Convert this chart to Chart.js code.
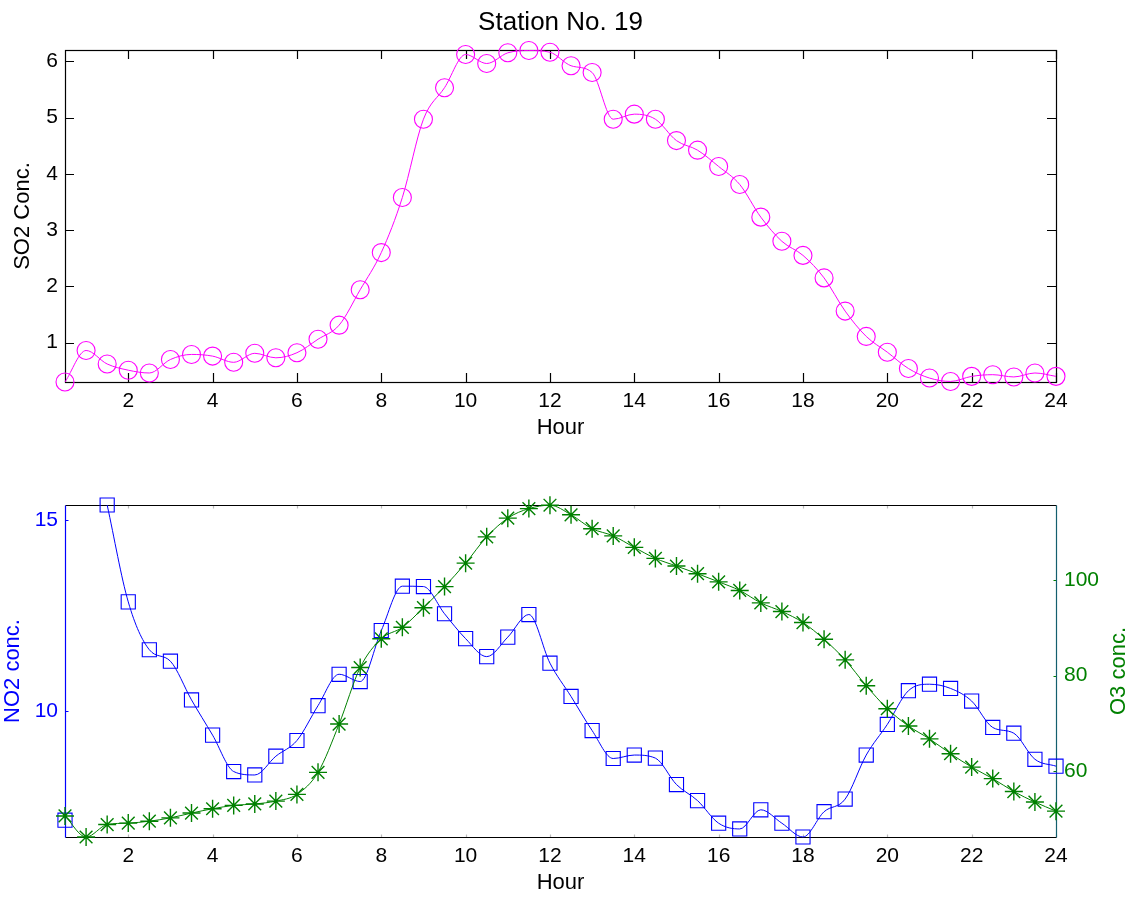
<!DOCTYPE html>
<html><head><meta charset="utf-8">
<script src="https://cdn.jsdelivr.net/npm/chart.js@4/dist/chart.umd.min.js"></script>
<style>
html,body{margin:0;padding:0;background:#fff;overflow:hidden;}
#wrap{position:relative;width:1133px;height:897px;}
.box{position:absolute;left:0;width:1133px;}
</style></head><body>
<div id="wrap">
<div class="box" style="top:0;height:455px"><canvas id="c1" width="1133" height="455"></canvas></div>
<div class="box" style="top:455px;height:442px"><canvas id="c2" width="1133" height="442"></canvas></div>
</div>
<script>
const HOURS = [0.5,1,1.5,2,2.5,3,3.5,4,4.5,5,5.5,6,6.5,7,7.5,8,8.5,9,9.5,10,10.5,11,11.5,12,
               12.5,13,13.5,14,14.5,15,15.5,16,16.5,17,17.5,18,18.5,19,19.5,20,20.5,21,21.5,22,22.5,23,23.5,24];
const SO2 = [0.30,0.86,0.62,0.51,0.46,0.70,0.79,0.76,0.65,0.81,0.73,0.82,1.06,1.31,1.94,2.60,3.58,4.97,5.53,6.12,5.96,6.15,6.19,6.16,
             5.92,5.80,4.97,5.06,4.97,4.59,4.42,4.13,3.81,3.23,2.80,2.55,2.15,1.56,1.11,0.83,0.54,0.37,0.31,0.40,0.43,0.39,0.46,0.40];
const NO2 = [7.16,null,15.39,12.86,11.61,11.31,10.30,9.38,8.43,8.34,8.83,9.24,10.15,10.97,10.78,12.11,13.27,13.26,12.55,11.90,11.43,11.94,12.53,11.26,
             10.39,9.50,8.77,8.86,8.78,8.09,7.67,7.08,6.93,7.43,7.08,6.72,7.38,7.71,8.86,9.66,10.54,10.71,10.60,10.27,9.58,9.43,8.75,8.57];
const O3 = [50.7,46.3,48.9,49.2,49.6,50.3,51.3,52.2,52.9,53.2,53.8,55.2,59.8,69.9,81.7,87.7,90.1,94.2,98.6,103.5,109.0,112.9,114.9,115.6,
            113.6,110.7,109.2,106.8,104.5,102.9,101.3,99.6,97.8,95.2,93.4,91.1,87.6,83.3,77.9,73.1,69.5,66.8,63.7,60.9,58.5,55.8,53.6,51.7];
const HOUR_TICKS = [2,4,6,8,10,12,14,16,18,20,22,24];
const SO2_TICKS = [1,2,3,4,5,6];
const NO2_TICKS = [10,15];
const O3_TICKS = [60,80,100];
const TITLE = 'Station No. 19';

const FAM = '"Liberation Sans", Arial, Helvetica, sans-serif';
const MAGENTA = '#ff00ff', BLUE = '#0000ff', GREEN = '#008000', TEAL = '#135f6e';

function pts(ys){ return HOURS.map((h,i)=>({x:h, y:ys[i]})); }
function setTicks(arr){ return s => { s.ticks = arr.map(v=>({value:v})); }; }

function xScale(){
  return {
    type:'linear', position:'bottom', min:0.5, max:24,
    afterBuildTicks: setTicks(HOUR_TICKS),
    afterFit: s => { s.height = 60; },
    grid:{display:false, drawTicks:false}, border:{display:false},
    ticks:{color:'#000', font:{family:FAM, size:21}, padding:7, maxRotation:0, autoSkip:false},
    title:{display:true, text:'Hour', color:'#000', font:{family:FAM, size:22}, padding:{top:0,bottom:1}}
  };
}

const topFrame = {
  id:'topFrame',
  beforeDatasetsDraw(chart){
    const {ctx, chartArea:{left,right,top,bottom}, scales} = chart;
    ctx.save();
    ctx.strokeStyle = '#000'; ctx.lineWidth = 1.2;
    ctx.beginPath();
    HOUR_TICKS.forEach(v => {
      const px = Math.round(scales.x.getPixelForValue(v)) + 0.5;
      ctx.moveTo(px, bottom); ctx.lineTo(px, bottom - 9);
      ctx.moveTo(px, top); ctx.lineTo(px, top + 9);
    });
    SO2_TICKS.forEach(v => {
      const py = Math.round(scales.y.getPixelForValue(v)) + 0.5;
      ctx.moveTo(left, py); ctx.lineTo(left + 9, py);
      ctx.moveTo(right, py); ctx.lineTo(right - 9, py);
    });
    ctx.stroke();
    ctx.strokeRect(Math.round(left)+0.5, Math.round(top)+0.5, Math.round(right-left), Math.round(bottom-top));
    ctx.restore();
  },
  afterDraw(chart){
    const {ctx, chartArea:{left,right}} = chart;
    ctx.save();
    ctx.fillStyle = '#000';
    ctx.font = '26px ' + FAM;
    ctx.textAlign = 'center'; ctx.textBaseline = 'middle';
    ctx.fillText(TITLE, (left + right) / 2, 23);
    ctx.restore();
  }
};

const botFrame = {
  id:'botFrame',
  beforeDatasetsDraw(chart){
    const {ctx, chartArea:{left,right,top,bottom}, scales} = chart;
    const L = Math.round(left)+0.5, R = Math.round(right)+0.5, T = Math.round(top)+0.5, B = Math.round(bottom)+0.5;
    ctx.save();
    ctx.lineWidth = 1.2;
    ctx.strokeStyle = '#bbb';
    ctx.beginPath();
    HOUR_TICKS.forEach(v => {
      const px = Math.round(scales.x.getPixelForValue(v)) + 0.5;
      ctx.moveTo(px, T); ctx.lineTo(px, T + 3);
      ctx.moveTo(px, B); ctx.lineTo(px, B - 3);
    });
    ctx.stroke();
    ctx.strokeStyle = BLUE; ctx.beginPath();
    NO2_TICKS.forEach(v => { const py = Math.round(scales.y.getPixelForValue(v)) + 0.5; ctx.moveTo(L, py); ctx.lineTo(L + 3, py); });
    ctx.stroke();
    ctx.strokeStyle = GREEN; ctx.beginPath();
    O3_TICKS.forEach(v => { const py = Math.round(scales.y1.getPixelForValue(v)) + 0.5; ctx.moveTo(R, py); ctx.lineTo(R - 3, py); });
    ctx.stroke();
    ctx.strokeStyle = '#000';
    ctx.beginPath(); ctx.moveTo(L, T); ctx.lineTo(R, T); ctx.moveTo(L, B); ctx.lineTo(R, B); ctx.stroke();
    ctx.strokeStyle = BLUE;
    ctx.beginPath(); ctx.moveTo(L, T); ctx.lineTo(L, B); ctx.stroke();
    ctx.strokeStyle = TEAL;
    ctx.beginPath(); ctx.moveTo(R, T); ctx.lineTo(R, B); ctx.stroke();
    ctx.restore();
  },
  afterDraw(chart){
    const {ctx, chartArea:{top,bottom}} = chart;
    ctx.save();
    ctx.fillStyle = GREEN;
    ctx.font = '22px ' + FAM;
    ctx.textAlign = 'center'; ctx.textBaseline = 'middle';
    ctx.translate(1119, (top + bottom) / 2);
    ctx.rotate(-Math.PI / 2);
    ctx.fillText('O3 conc.', 0, 0);
    ctx.restore();
  }
};

new Chart(document.getElementById('c1'), {
  type:'line',
  data:{datasets:[{
    data: pts(SO2), borderColor:MAGENTA, borderWidth:1, fill:false,
    pointStyle:'circle', pointRadius:9, pointBorderColor:MAGENTA, pointBackgroundColor:'rgba(0,0,0,0)', pointBorderWidth:1.1,
    cubicInterpolationMode:'monotone', clip:false
  }]},
  options:{
    responsive:false, animation:false, events:[],
    layout:{padding:{left:0, right:77, top:50, bottom:13}},
    plugins:{legend:{display:false}, tooltip:{enabled:false}, title:{display:false}},
    scales:{
      x: xScale(),
      y:{
        type:'linear', position:'left', min:0.3, max:6.2,
        afterBuildTicks: setTicks(SO2_TICKS),
        afterFit: s => { s.width = 65; },
        grid:{display:false, drawTicks:false}, border:{display:false},
        ticks:{color:'#000', font:{family:FAM, size:21}, padding:7},
        title:{display:true, text:'SO2 Conc.', color:'#000', font:{family:FAM, size:22}, padding:{top:10, bottom:0}}
      }
    }
  },
  plugins:[topFrame]
});

new Chart(document.getElementById('c2'), {
  type:'line',
  data:{datasets:[
    {
      data: pts(O3), yAxisID:'y1', order:0, borderColor:GREEN, borderWidth:1, fill:false,
      pointStyle:'star', pointRadius:9, pointBorderColor:GREEN, pointBackgroundColor:GREEN, pointBorderWidth:1.4,
      cubicInterpolationMode:'monotone', clip:false
    },
    {
      data: pts(NO2), yAxisID:'y', order:1, borderColor:BLUE, borderWidth:1, fill:false, spanGaps:false,
      pointStyle:'rect', pointRadius:10, pointBorderColor:BLUE, pointBackgroundColor:'rgba(0,0,0,0)', pointBorderWidth:1.1,
      cubicInterpolationMode:'monotone', clip:false
    }
  ]},
  options:{
    responsive:false, animation:false, events:[],
    layout:{padding:{left:0, right:0, top:50, bottom:0}},
    plugins:{legend:{display:false}, tooltip:{enabled:false}},
    scales:{
      x: xScale(),
      y:{
        type:'linear', position:'left', min:6.72, max:15.39,
        afterBuildTicks: setTicks(NO2_TICKS),
        afterFit: s => { s.width = 65; },
        grid:{display:false, drawTicks:false}, border:{display:false},
        ticks:{color:BLUE, font:{family:FAM, size:21}, padding:7},
        title:{display:true, text:'NO2 conc.', color:BLUE, font:{family:FAM, size:22}, padding:{top:0, bottom:0}}
      },
      y1:{
        type:'linear', position:'right', min:46.3, max:115.65,
        afterBuildTicks: setTicks(O3_TICKS),
        afterFit: s => { s.width = 77; },
        grid:{display:false, drawTicks:false}, border:{display:false},
        ticks:{color:GREEN, font:{family:FAM, size:21}, padding:8},
        title:{display:false}
      }
    }
  },
  plugins:[botFrame]
});
</script>
</body></html>
